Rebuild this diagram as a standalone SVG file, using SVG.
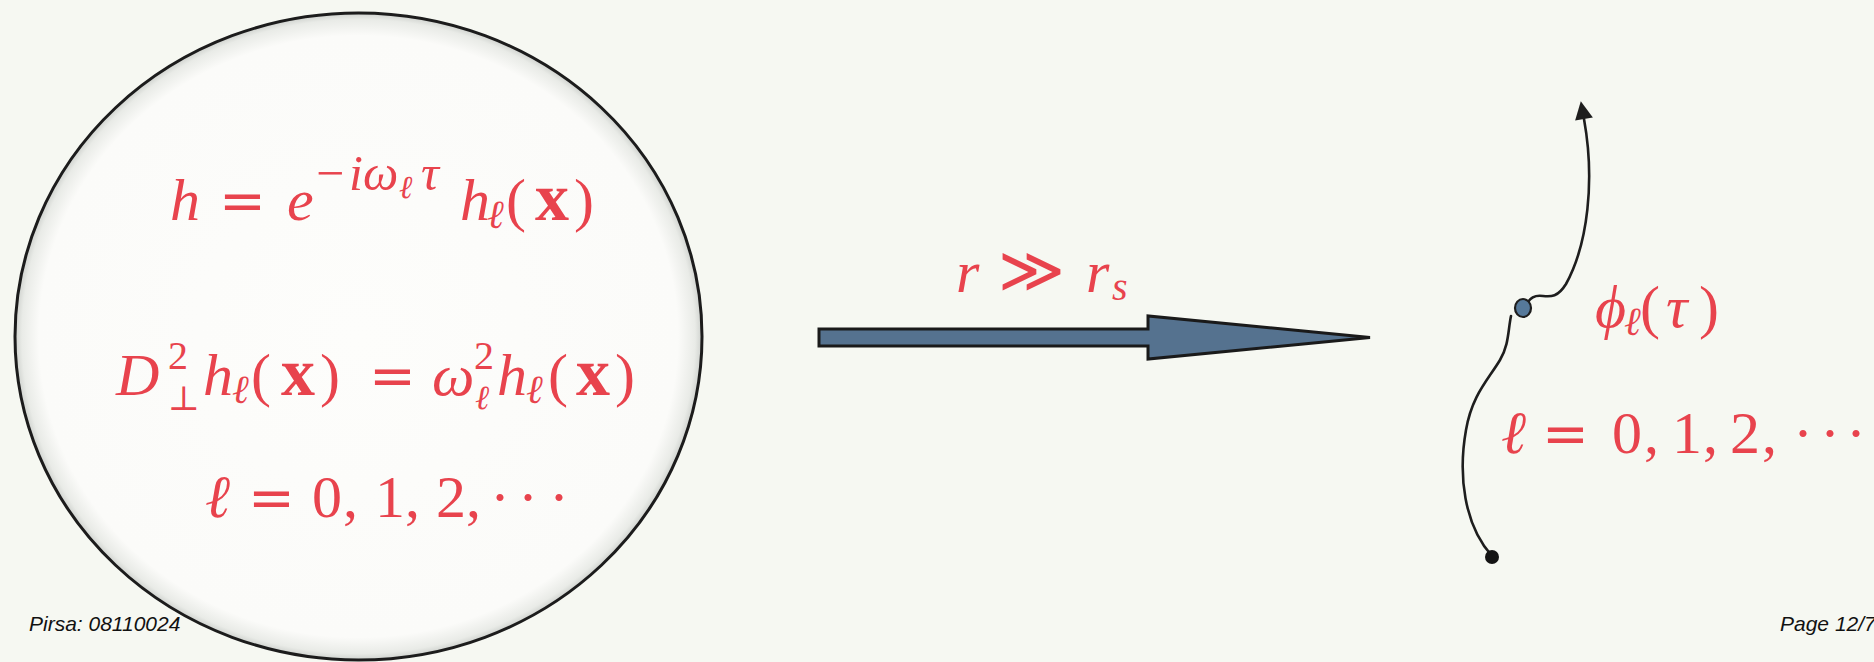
<svg xmlns="http://www.w3.org/2000/svg" width="1874" height="662" viewBox="0 0 1874 662">
<defs>
<radialGradient id="inner" cx="0.5" cy="0.5" r="0.5">
<stop offset="0" stop-color="#fdfdfb"/>
<stop offset="0.93" stop-color="#fbfbf9"/>
<stop offset="0.98" stop-color="#e9ebe7"/>
<stop offset="1" stop-color="#cfd2ce"/>
</radialGradient>
<marker id="tipHead" viewBox="0 0 10 10" refX="0" refY="5" markerWidth="22" markerHeight="18" markerUnits="userSpaceOnUse" orient="auto">
<path d="M0,0 L10,5 L0,10 Z" fill="#1e1e1e"/>
</marker>
</defs>
<style>
.m{font-family:"Liberation Serif","DejaVu Serif",serif;font-size:60px;fill:#e8434d}
.i{font-style:italic}
.b{font-weight:bold;font-size:68px}
.sym{font-family:"DejaVu Serif","Liberation Serif",serif;font-size:56px}
.sup{font-size:50px}
.sub{font-size:40px}
.foot{font-family:"Liberation Sans",Arial,sans-serif;font-style:italic;font-size:21px;fill:#111}
.line{fill:none;stroke:#1e1e1e;stroke-width:2.6;stroke-linecap:round}
</style>
<rect width="1874" height="662" fill="#f6f8f2"/>

<g id="region-circle">
<ellipse cx="358.5" cy="336.5" rx="343.5" ry="323.5" fill="url(#inner)" stroke="#1c1c1c" stroke-width="3"/>
<text class="m" y="220"><tspan class="i" x="170">h</tspan><tspan class="sym" x="219">=</tspan><tspan class="i" x="287">e</tspan><tspan class="sup" x="316" y="190">−</tspan><tspan class="sup i" x="349" y="190">i</tspan><tspan class="sup i" x="363" y="190">ω</tspan><tspan class="i" style="font-size:32px" x="399" y="198">ℓ</tspan><tspan class="sup i" x="421" y="190">τ</tspan><tspan class="i" x="460" y="220">h</tspan><tspan class="sub i" x="487" y="228">ℓ</tspan><tspan x="506" y="220">(</tspan><tspan class="b" x="535">x</tspan><tspan x="574">)</tspan></text>
<text class="m" y="395"><tspan class="i" x="116">D</tspan><tspan class="sub" x="168" y="369">2</tspan><tspan class="i" x="203" y="395">h</tspan><tspan class="sub i" x="232" y="403">ℓ</tspan><tspan x="251" y="395">(</tspan><tspan class="b" x="281">x</tspan><tspan x="320">)</tspan><tspan class="sym" x="369">=</tspan><tspan class="i" x="432">ω</tspan><tspan class="sub" x="474" y="369">2</tspan><tspan class="i" x="497" y="395">h</tspan><tspan class="sub i" x="526" y="403">ℓ</tspan><tspan x="548" y="395">(</tspan><tspan class="b" x="576">x</tspan><tspan x="615">)</tspan></text>
<text class="m sym" style="font-size:34px" x="168" y="410">⊥</text>
<text class="m i" style="font-size:34px" x="475" y="409">ℓ</text>
<text class="m" y="517"><tspan class="i" x="205">ℓ</tspan><tspan class="sym" x="248">=</tspan><tspan x="312">0</tspan><tspan x="343">,</tspan><tspan x="375">1</tspan><tspan x="405">,</tspan><tspan x="436">2</tspan><tspan x="466">,</tspan><tspan x="490">·</tspan><tspan x="518">·</tspan><tspan x="549">·</tspan></text>
</g>

<g id="connectors">
<path id="limit-arrow" d="M819,329 L1148,329 L1148,316 L1370,337.5 L1148,359 L1148,346 L819,346 Z" fill="#55728f" stroke="#1a1a1a" stroke-width="3" stroke-linejoin="miter"/>
<path id="worldline-upper" class="line" d="M1528,302 C1531,297 1536,295 1543,296 C1551,297 1558,297 1566,284 C1588,244 1595,180 1584,119" marker-end="url(#tipHead)"/>
<path id="worldline-lower" class="line" d="M1511,316 C1508,330 1509,345 1500,360 C1488,380 1472,395 1466,430 C1458,475 1464,525 1492,556"/>
</g>

<g id="limit-label">
<text class="m" y="292"><tspan class="i" x="956">r</tspan><tspan class="sym" style="font-size:64px" x="998">≫</tspan><tspan class="i" x="1086">r</tspan><tspan class="sub i" x="1112" y="300">s</tspan></text>
</g>

<g id="particle">
<ellipse cx="1523" cy="308" rx="8" ry="9" fill="#56799a" stroke="#1e1e1e" stroke-width="2.2"/>
<text class="m" y="327"><tspan class="i" x="1595">ϕ</tspan><tspan class="sub i" x="1624" y="335">ℓ</tspan><tspan x="1640" y="327">(</tspan><tspan class="i" x="1666">τ</tspan><tspan x="1699">)</tspan></text>
<text class="m" y="453"><tspan class="i" x="1501">ℓ</tspan><tspan class="sym" x="1542">=</tspan><tspan x="1612">0</tspan><tspan x="1644">,</tspan><tspan x="1672">1</tspan><tspan x="1703">,</tspan><tspan x="1730">2</tspan><tspan x="1762">,</tspan><tspan x="1793">·</tspan><tspan x="1820">·</tspan><tspan x="1846">·</tspan></text>
</g>

<g id="start-point">
<circle cx="1492" cy="557" r="7" fill="#141414"/>
</g>

<g id="footer">
<text class="foot" x="29" y="631">Pirsa: 08110024</text>
<text class="foot" x="1780" y="631">Page 12/7</text>
</g>
</svg>
